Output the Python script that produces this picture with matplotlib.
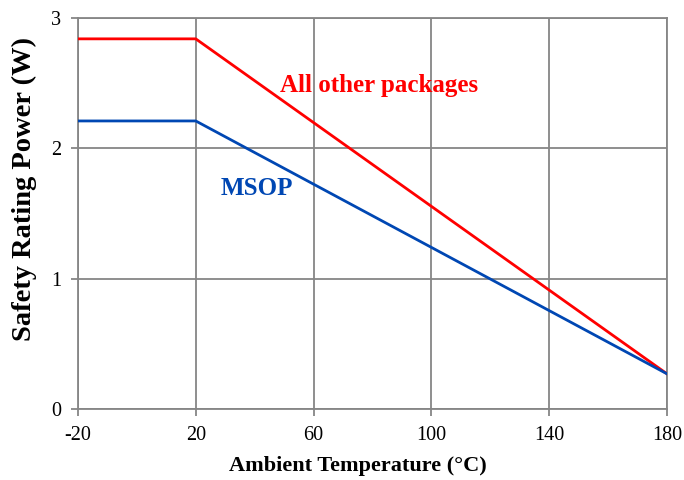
import matplotlib.pyplot as plt

# Data
temps = [-20, 20, 180]
power_other = [2.84, 2.84, 0.27]
power_msop = [2.21, 2.21, 0.27]

x_ticks = [-20, 20, 60, 100, 140, 180]
y_ticks = [0, 1, 2, 3]

plt.rcParams['font.family'] = ['Liberation Serif', 'DejaVu Serif']
plt.rcParams['axes.unicode_minus'] = False

fig = plt.figure(figsize=(6.84, 4.8), dpi=100)
ax = fig.add_axes([0.114, 0.148, 0.861, 0.8145])

grid_color = '#868686'
ax.plot(temps, power_other, color='#ff0000', lw=2, zorder=3)
ax.plot(temps, power_msop, color='#0047b3', lw=2, zorder=3)

ax.set_xlim(-20, 180)
ax.set_ylim(0, 3)
ax.set_xticks(x_ticks)
ax.set_yticks(y_ticks)
ax.grid(True, color=grid_color, lw=1.3)
for s in ax.spines.values():
    s.set_color(grid_color)
    s.set_linewidth(1.3)
ax.tick_params(axis='both', colors=grid_color, labelcolor='black',
               labelsize=14.5, length=5, width=1.3)
ax.tick_params(axis='x', pad=7)
ax.tick_params(axis='y', pad=7)

# axis titles, placed where they sit in the reference
fig.text(358 / 684, 1 - 466 / 480, 'Ambient Temperature (°C)', fontsize=16,
         fontweight='bold', ha='center', va='center')
fig.text(24 / 684, 1 - 189 / 480, 'Safety Rating Power (W)', fontsize=20.5,
         fontweight='bold', ha='center', va='center', rotation=90)

ax.text(48.6, 2.43, 'All other packages', color='#ff0000',
        fontsize=18, fontweight='bold', va='baseline', ha='left')
ax.text(28.6, 1.64, 'MSOP', color='#0047b3',
        fontsize=18, fontweight='bold', va='baseline', ha='left')

fig.savefig('out.png', dpi=100)
